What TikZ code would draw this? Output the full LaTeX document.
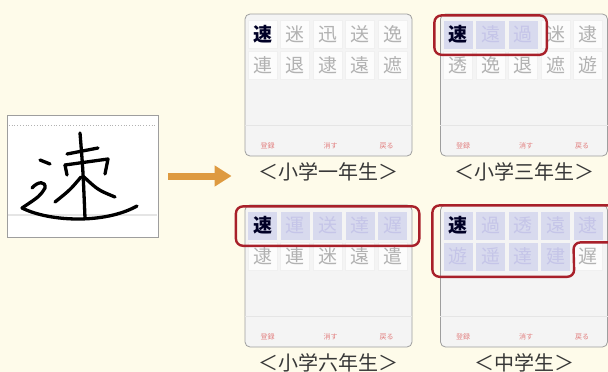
\documentclass[tikz,border=0pt]{standalone}
\usepackage{fontspec}
\newfontfamily\jpfont{Noto Sans CJK JP}
\usetikzlibrary{positioning,calc,arrows.meta}
\definecolor{paper}{RGB}{254,251,234}
\definecolor{frame}{RGB}{158,158,158}
\definecolor{panelbg}{RGB}{244,244,244}
\definecolor{hlred}{RGB}{168,32,42}
\definecolor{arrowor}{RGB}{222,154,64}
\definecolor{tint}{RGB}{216,218,238}
\definecolor{btnred}{RGB}{226,128,128}
\tikzset{
  panel/.style={draw=frame, fill=panelbg, rounded corners=5pt, line width=.8pt,
    minimum width=167pt, minimum height=142pt, inner sep=0pt},
  cell/.style={fill=white!70!panelbg, draw=black!6, minimum width=29pt, minimum height=28pt,
    inner sep=0pt, font=\jpfont\fontsize{19}{19}\selectfont, text=black!30},
  hlcell/.style={cell, fill=tint, draw=none, text=black!28!tint!70!blue!40},
  lead/.style={text=black!85!blue, font=\jpfont\bfseries\fontsize{19}{19}\selectfont},
  button/.style={font=\jpfont\fontsize{7}{7}\selectfont, text=btnred},
  caption/.style={font=\jpfont\fontsize{20}{22}\selectfont, text=black!78, inner sep=2pt},
  pick/.style={draw=hlred, line width=2.4pt, rounded corners=7pt},
  hand/.style={line width=3.3pt, line cap=round, line join=round, black}
}
\begin{document}
\begin{tikzpicture}[x=1pt,y=-1pt]
\useasboundingbox (0,0) rectangle (608,372);
\clip (0,0) rectangle (608,372);
\fill[paper] (0,0) rectangle (608,372);
% handwriting pad
\node[draw=frame, fill=white, minimum width=151pt, minimum height=122pt, inner sep=0pt] (hw) at (82.5,176) {};
\draw[black!30, dotted, line width=.8pt] ($(hw.north west)+(2,11)$) -- ($(hw.north east)+(-2,11)$);
\draw[black!10, line width=2pt] ($(hw.south west)+(1,-22)$) -- ($(hw.south east)+(-1,-22)$);
\draw[hand] (80,133) .. controls (83,170) .. (85,218);
\draw[hand] (67,154) -- (98,148);
\draw[hand] (65,165) -- (108,159) -- (105,174);
\draw[hand] (65,165) -- (67,175);
\draw[hand] (81,177) .. controls (70,190) .. (55,202);
\draw[hand] (84,177) .. controls (98,190) .. (115,197);
\draw[hand] (40,160) -- (50,164);
\draw[hand] (32,188) .. controls (38,181) and (46,181) .. (45,188) .. controls (40,196) .. (22,208);
\draw[hand] (22,208) .. controls (50,222) and (105,224) .. (137,206);
% candidate panels
\node[panel] (p1) at (328.5,85) {};
\node[panel] (p2) at (524,85) {};
\node[panel] (p3) at (328.5,276) {};
\node[panel] (p4) at (524,276) {};
\node[caption, below=4pt of p1] (c1) {＜小学一年生＞};
\node[caption, below=4pt of p2] (c2) {＜小学三年生＞};
\node[caption, below=4pt of p3] (c3) {＜小学六年生＞};
\node[caption, below=4pt of p4] (c4) {＜中学生＞};
\foreach \p in {p1,p2,p3,p4}{
  \draw[black!10] ($(\p.north west)+(0,112)$) -- ($(\p.north east)+(0,112)$);
  \node[button] at ($(\p.north west)+(23,132)$) {登録};
  \node[button] at ($(\p.north west)+(86,132)$) {消す};
  \node[button] at ($(\p.north west)+(142,132)$) {戻る};
}
\foreach \c [count=\n from 0] in {速,迷,迅,送,逸,連,退,逮,遠,遮}{
  \pgfmathtruncatemacro\col{mod(\n,5)}
  \pgfmathtruncatemacro\row{\n/5}
  \tikzset{cur/.style=cell}
  \ifnum\n=0 \tikzset{cur/.append style=lead}\fi
  \node[cur] (p1c\n) at ($(p1.north west)+(18+32.5*\col,21+31*\row)$) {\c};
}
\foreach \c [count=\n from 0] in {速,遠,過,迷,逮,透,逸,退,遮,遊}{
  \pgfmathtruncatemacro\col{mod(\n,5)}
  \pgfmathtruncatemacro\row{\n/5}
  \ifnum\n<3 \tikzset{cur/.style=hlcell}\else\tikzset{cur/.style=cell}\fi
  \ifnum\n=0 \tikzset{cur/.append style=lead}\fi
  \node[cur] (p2c\n) at ($(p2.north west)+(18+32.5*\col,21+31*\row)$) {\c};
}
\foreach \c [count=\n from 0] in {速,運,送,達,遅,逮,連,迷,遠,遣}{
  \pgfmathtruncatemacro\col{mod(\n,5)}
  \pgfmathtruncatemacro\row{\n/5}
  \ifnum\n<5 \tikzset{cur/.style=hlcell}\else\tikzset{cur/.style=cell}\fi
  \ifnum\n=0 \tikzset{cur/.append style=lead}\fi
  \node[cur] (p3c\n) at ($(p3.north west)+(18+32.5*\col,21+31*\row)$) {\c};
}
\foreach \c [count=\n from 0] in {速,過,透,遠,逮,遊,遥,達,建,遅}{
  \pgfmathtruncatemacro\col{mod(\n,5)}
  \pgfmathtruncatemacro\row{\n/5}
  \ifnum\n<9 \tikzset{cur/.style=hlcell}\else\tikzset{cur/.style=cell}\fi
  \ifnum\n=0 \tikzset{cur/.append style=lead}\fi
  \node[cur] (p4c\n) at ($(p4.north west)+(18+32.5*\col,21+31*\row)$) {\c};
}
% selections
\draw[pick] ($(p2c0.north west)+(-9,-5)$) rectangle ($(p2c2.south east)+(9,6)$);
\draw[pick] ($(p3c0.north west)+(-12,-5)$) rectangle ($(p3c4.south east)+(12,6)$);
\draw[pick] ($(p4c0.north west)+(-11,-6)$) -- ($(p4c4.north east)+(30,-6)$)
  -- ($(p4c9.north east)+(30,0)$) -- ($(p4c9.north west)+(0,0)$)
  -- ($(p4c8.south east)+(4,6)$) -- ($(p4c5.south west)+(-11,6)$) -- cycle;
\draw[arrowor, line width=7pt, -{Triangle[length=17pt,width=20pt]}, shorten <=10pt, shorten >=13pt]
  (hw.east) -- (hw.east -| p1.west);
\end{tikzpicture}
\end{document}
